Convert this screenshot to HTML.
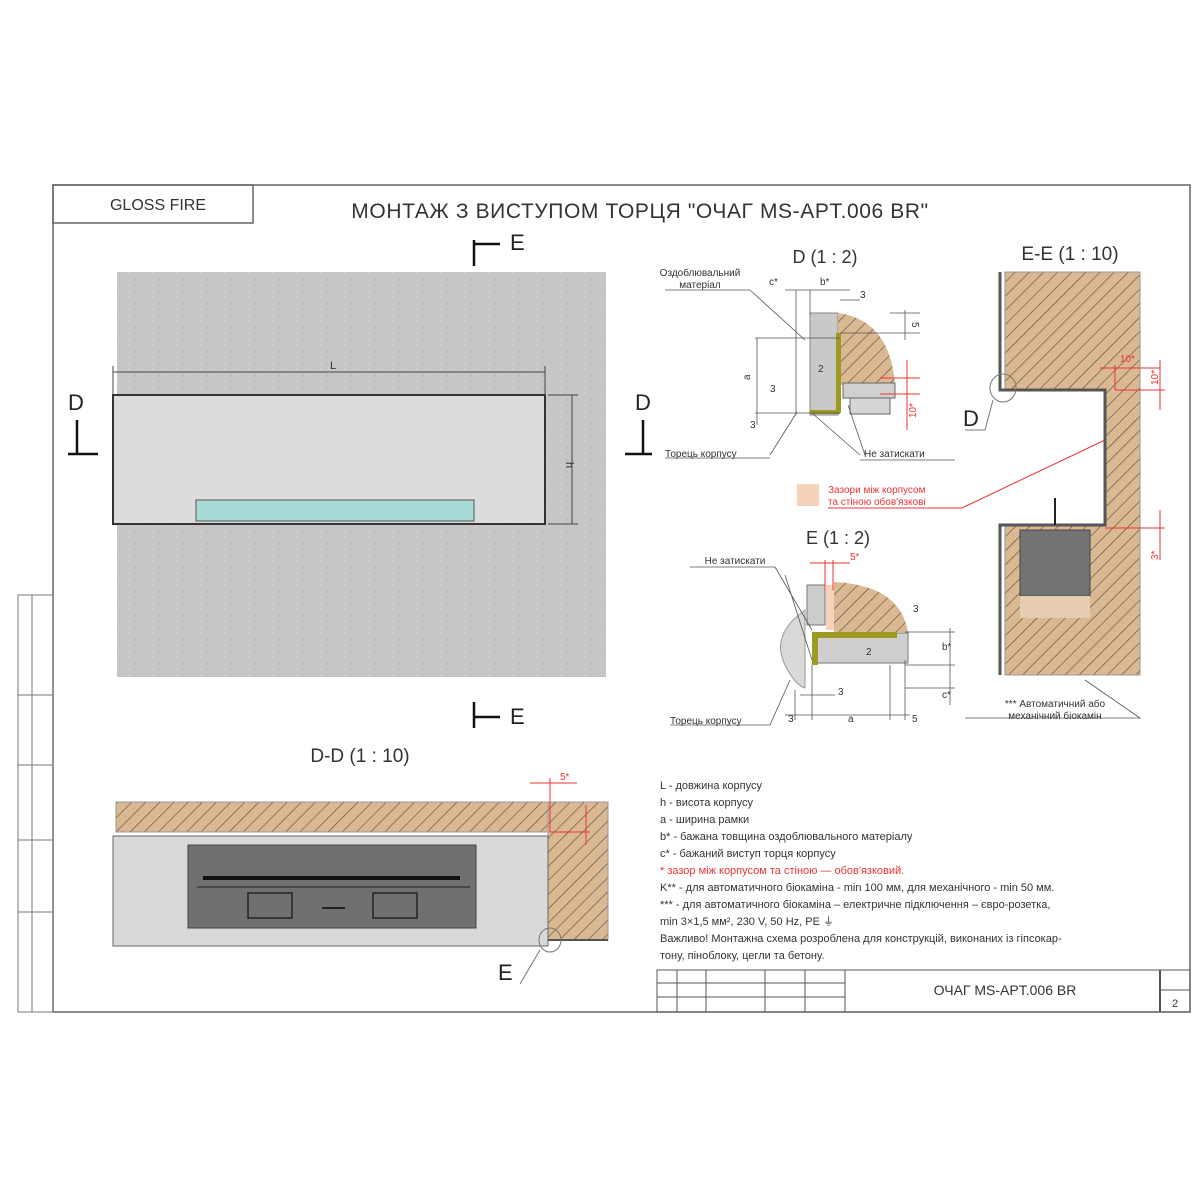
<!DOCTYPE html>
<html><head><meta charset="utf-8"><style>
html,body{margin:0;padding:0;background:#fff;}
svg{display:block;font-family:"Liberation Sans",sans-serif;}
</style></head><body>
<svg width="1200" height="1200" viewBox="0 0 1200 1200" xmlns="http://www.w3.org/2000/svg">
<defs>
<pattern id="h" width="10" height="10" patternUnits="userSpaceOnUse" patternTransform="rotate(45)">
<rect width="10" height="10" fill="#d9b892"/><line x1="0" y1="0" x2="0" y2="10" stroke="#5a4a3a" stroke-width="1.2"/>
</pattern>
<pattern id="c" width="12" height="12" patternUnits="userSpaceOnUse">
<rect width="12" height="12" fill="#c6c6c6"/><circle cx="3" cy="4" r="0.8" fill="#b0b0b0"/><circle cx="9" cy="9" r="0.7" fill="#d8d8d8"/>
</pattern>
</defs>
<rect width="1200" height="1200" fill="#fff"/>
<rect x="53" y="185" width="1137" height="827" fill="none" stroke="#666" stroke-width="1.5"/>
<rect x="18" y="595" width="35" height="417" fill="none" stroke="#777"/>
<line x1="32" y1="595" x2="32" y2="1012" stroke="#777"/>
<g stroke="#777"><line x1="18" y1="695" x2="53" y2="695"/><line x1="18" y1="765" x2="53" y2="765"/><line x1="18" y1="840" x2="53" y2="840"/><line x1="18" y1="912" x2="53" y2="912"/></g>
<rect x="53" y="185" width="200" height="38" fill="none" stroke="#666" stroke-width="1.5"/>
<text x="158" y="210" font-size="16" text-anchor="middle" fill="#333">GLOSS FIRE</text>
<text x="640" y="218" font-size="21" letter-spacing="0.6" text-anchor="middle" fill="#333">МОНТАЖ З ВИСТУПОМ ТОРЦЯ "ОЧАГ MS-APT.006 BR"</text>
<rect x="117" y="272" width="489" height="405" fill="url(#c)"/>
<rect x="113" y="395" width="432" height="129" fill="#dcdcdc" stroke="#333" stroke-width="2"/>
<rect x="196" y="500" width="278" height="21" fill="#a9dbd6" stroke="#555"/>
<g stroke="#444" fill="none">
<line x1="113" y1="372" x2="545" y2="372"/><line x1="113" y1="366" x2="113" y2="395"/><line x1="545" y1="366" x2="545" y2="395"/>
<line x1="548" y1="395" x2="578" y2="395"/><line x1="548" y1="524" x2="578" y2="524"/><line x1="572" y1="395" x2="572" y2="524"/>
</g>
<text x="330" y="369" font-size="11" fill="#333">L</text>
<text x="566" y="462" font-size="11" fill="#333" transform="rotate(90 566 462)">h</text>
<g font-size="22" fill="#222">
<text x="68" y="410">D</text><text x="635" y="410">D</text><text x="510" y="250">E</text><text x="510" y="724">E</text>
</g>
<g stroke="#111" stroke-width="2.5"><line x1="77" y1="420" x2="77" y2="454"/><line x1="68" y1="454" x2="98" y2="454"/><line x1="643" y1="420" x2="643" y2="454"/><line x1="625" y1="454" x2="652" y2="454"/>
<line x1="474" y1="240" x2="474" y2="266"/><line x1="474" y1="244" x2="500" y2="244"/><line x1="474" y1="702" x2="474" y2="728"/><line x1="474" y1="717" x2="500" y2="717"/></g>
<text x="360" y="762" font-size="19" text-anchor="middle" fill="#333">D-D (1 : 10)</text>
<rect x="116" y="802" width="492" height="30" fill="url(#h)" stroke="#999"/>
<rect x="548" y="802" width="60" height="138" fill="url(#h)" stroke="#999"/>
<rect x="113" y="836" width="435" height="110" fill="#d9d9d9" stroke="#666"/>
<rect x="188" y="845" width="288" height="83" fill="#707070" stroke="#444"/>
<line x1="203" y1="878" x2="460" y2="878" stroke="#111" stroke-width="4"/>
<line x1="197" y1="887" x2="470" y2="887" stroke="#222"/>
<rect x="248" y="893" width="44" height="25" fill="none" stroke="#222" stroke-width="1.5"/>
<rect x="373" y="893" width="44" height="25" fill="none" stroke="#222" stroke-width="1.5"/>
<line x1="322" y1="908" x2="345" y2="908" stroke="#222" stroke-width="2"/>
<line x1="548" y1="940" x2="608" y2="940" stroke="#555" stroke-width="2"/>
<g stroke="#e33" fill="none"><line x1="530" y1="783" x2="577" y2="783"/><line x1="550" y1="778" x2="550" y2="832"/><line x1="550" y1="832" x2="590" y2="832"/><line x1="586" y1="805" x2="586" y2="845"/></g>
<text x="560" y="780" font-size="10" fill="#e33">5*</text>
<ellipse cx="550" cy="940" rx="11" ry="12" fill="none" stroke="#777"/>
<line x1="540" y1="950" x2="520" y2="984" stroke="#777"/>
<text x="498" y="980" font-size="22" fill="#222">E</text>
<text x="825" y="263" font-size="18" text-anchor="middle" fill="#333">D (1 : 2)</text>
<text x="700" y="276" font-size="10" text-anchor="middle" fill="#333">Оздоблювальний</text>
<text x="700" y="288" font-size="10" text-anchor="middle" fill="#333">матеріал</text>
<rect x="810" y="313" width="28" height="102" fill="#c9c9c9" stroke="#888"/>
<path d="M838 313 Q890 320 895 385 L838 385 Z" fill="url(#h)"/>
<rect x="836" y="333" width="5" height="80" fill="#9c9a20"/>
<rect x="810" y="410" width="30" height="4" fill="#9c9a20"/>
<rect x="843" y="383" width="52" height="15" fill="#d0d0d0" stroke="#666"/>
<rect x="850" y="398" width="40" height="16" fill="#d6d6d6" stroke="#666"/>
<g stroke="#555" fill="none" stroke-width="0.8">
<line x1="755" y1="338" x2="840" y2="338"/><line x1="755" y1="413" x2="840" y2="413"/><line x1="757" y1="338" x2="757" y2="425"/>
<line x1="785" y1="290" x2="850" y2="290"/><line x1="796" y1="290" x2="796" y2="415"/><line x1="810" y1="290" x2="810" y2="315"/>
<line x1="840" y1="300" x2="860" y2="300"/><line x1="840" y1="333" x2="920" y2="333"/><line x1="890" y1="313" x2="920" y2="313"/><line x1="905" y1="310" x2="905" y2="340"/>
<line x1="665" y1="290" x2="750" y2="290"/><line x1="750" y1="290" x2="805" y2="340"/>
<line x1="770" y1="455" x2="797" y2="412"/><line x1="665" y1="458" x2="770" y2="458"/>
<line x1="812" y1="413" x2="860" y2="455"/><line x1="848" y1="405" x2="865" y2="455"/><line x1="860" y1="460" x2="955" y2="460"/>
</g>
<g stroke="#e33" fill="none"><line x1="880" y1="378" x2="920" y2="378"/><line x1="880" y1="394" x2="920" y2="394"/><line x1="907" y1="360" x2="907" y2="430"/></g>
<g font-size="10" fill="#333"><text x="769" y="285">c*</text><text x="820" y="285">b*</text><text x="860" y="298">3</text><text x="818" y="372">2</text><text x="912" y="322" transform="rotate(90 912 322)">5</text><text x="750" y="380" transform="rotate(-90 750 380)">a</text><text x="770" y="392">3</text><text x="750" y="428">3</text>
<text x="665" y="457">Торець корпусу</text><text x="864" y="457">Не затискати</text></g>
<text x="916" y="418" font-size="10" fill="#e33" transform="rotate(-90 916 418)">10*</text>
<rect x="797" y="484" width="22" height="22" fill="#f6d3b8"/>
<text x="828" y="493" font-size="10" fill="#e33">Зазори між корпусом</text>
<text x="828" y="505" font-size="10" fill="#e33">та стіною обов'язкові</text>
<polyline points="828,508 962,508 1105,440" fill="none" stroke="#e33"/>
<text x="838" y="544" font-size="18" text-anchor="middle" fill="#333">E (1 : 2)</text>
<text x="735" y="564" font-size="10" text-anchor="middle" fill="#333">Не затискати</text>
<line x1="690" y1="567" x2="775" y2="567" stroke="#555" stroke-width="0.8"/>
<path d="M805 610 Q770 635 785 665 Q795 685 805 688 L805 610 Z" fill="#d9d9d9" stroke="#999"/>
<rect x="807" y="585" width="18" height="40" fill="#ccc" stroke="#777"/>
<rect x="826" y="585" width="8" height="45" fill="#f6d3b8"/>
<path d="M834 582 Q900 585 908 632 L834 632 Z" fill="url(#h)"/>
<rect x="813" y="633" width="95" height="30" fill="#cfcfcf" stroke="#777"/>
<path d="M812 632 L897 632 L897 638 L818 638 L818 665 L812 665 Z" fill="#9c9a20"/>
<g stroke="#555" fill="none" stroke-width="0.8">
<line x1="775" y1="567" x2="812" y2="630"/><line x1="785" y1="575" x2="812" y2="660"/>
<line x1="905" y1="632" x2="955" y2="632"/><line x1="905" y1="665" x2="955" y2="665"/><line x1="950" y1="628" x2="950" y2="705"/><line x1="905" y1="688" x2="955" y2="688"/>
<line x1="795" y1="690" x2="795" y2="720"/><line x1="812" y1="665" x2="812" y2="720"/><line x1="890" y1="665" x2="890" y2="720"/><line x1="905" y1="660" x2="905" y2="720"/>
<line x1="785" y1="715" x2="910" y2="715"/><line x1="800" y1="695" x2="835" y2="695"/>
<line x1="790" y1="680" x2="770" y2="725"/><line x1="670" y1="725" x2="770" y2="725"/>
</g>
<g stroke="#e33" fill="none"><line x1="810" y1="563" x2="850" y2="563"/><line x1="825" y1="560" x2="825" y2="590"/><line x1="833" y1="560" x2="833" y2="590"/></g>
<text x="850" y="560" font-size="10" fill="#e33">5*</text>
<g font-size="10" fill="#333"><text x="838" y="695">3</text><text x="788" y="722">3</text><text x="848" y="722">a</text><text x="912" y="722">5</text><text x="913" y="612">3</text><text x="942" y="650">b*</text><text x="942" y="698">c*</text><text x="866" y="655">2</text><text x="670" y="724">Торець корпусу</text></g>
<text x="1070" y="260" font-size="19" text-anchor="middle" fill="#333">E-E (1 : 10)</text>
<path d="M1005 272 L1140 272 L1140 675 L1005 675 L1005 525 L1105 525 L1105 390 L1005 390 Z" fill="url(#h)" stroke="#999"/>
<g stroke="#555" stroke-width="3" fill="none">
<polyline points="1000,272 1000,390 1105,390 1105,525 1000,525 1000,675"/></g>
<rect x="1020" y="530" width="70" height="66" fill="#737373" stroke="#444"/>
<rect x="1020" y="596" width="70" height="22" fill="#e6cdb0"/>
<line x1="1055" y1="498" x2="1055" y2="525" stroke="#222" stroke-width="2"/>
<g stroke="#e33" fill="none"><line x1="1100" y1="368" x2="1160" y2="368"/><line x1="1115" y1="365" x2="1115" y2="390"/><line x1="1115" y1="390" x2="1165" y2="390"/><line x1="1160" y1="360" x2="1160" y2="410"/><line x1="1105" y1="528" x2="1165" y2="528"/><line x1="1160" y1="510" x2="1160" y2="560"/></g>
<text x="1120" y="362" font-size="10" fill="#e33">10*</text>
<text x="1158" y="385" font-size="10" fill="#e33" transform="rotate(-90 1158 385)">10*</text>
<text x="1158" y="560" font-size="10" fill="#e33" transform="rotate(-90 1158 560)">3*</text>
<ellipse cx="1003" cy="388" rx="13" ry="14" fill="none" stroke="#777"/>
<polyline points="993,400 985,430 965,430" fill="none" stroke="#777"/>
<text x="963" y="426" font-size="22" fill="#222">D</text>
<polyline points="1085,680 1140,718 965,718" fill="none" stroke="#555" stroke-width="0.8"/>
<text x="1055" y="707" font-size="10" text-anchor="middle" fill="#333">*** Автоматичний або</text>
<text x="1055" y="719" font-size="10" text-anchor="middle" fill="#333">механічний біокамін</text>
<g font-size="11" fill="#333">
<text x="660" y="789">L - довжина корпусу</text>
<text x="660" y="806">h - висота корпусу</text>
<text x="660" y="823">a - ширина рамки</text>
<text x="660" y="840">b* - бажана товщина оздоблювального матеріалу</text>
<text x="660" y="857">c* - бажаний виступ торця корпусу</text>
<text x="660" y="874" fill="#e33">* зазор між корпусом та стіною — обов'язковий.</text>
<text x="660" y="891">K** - для автоматичного біокаміна - min 100 мм, для механічного - min 50 мм.</text>
<text x="660" y="908">*** - для автоматичного біокаміна – електричне підключення – євро-розетка,</text>
<text x="660" y="925">min 3×1,5 мм², 230 V, 50 Hz, PE ⏚</text>
<text x="660" y="942">Важливо! Монтажна схема розроблена для конструкцій, виконаних із гіпсокар-</text>
<text x="660" y="959">тону, піноблоку, цегли та бетону.</text>
</g>
<g stroke="#555" fill="none">
<rect x="657" y="970" width="533" height="42"/>
<line x1="677" y1="970" x2="677" y2="1012"/><line x1="706" y1="970" x2="706" y2="1012"/><line x1="765" y1="970" x2="765" y2="1012"/><line x1="805" y1="970" x2="805" y2="1012"/><line x1="845" y1="970" x2="845" y2="1012"/>
<line x1="657" y1="983" x2="845" y2="983"/><line x1="657" y1="997" x2="845" y2="997"/>
<line x1="1160" y1="970" x2="1160" y2="1012" stroke-width="2"/><line x1="1160" y1="990" x2="1190" y2="990"/>
</g>
<text x="1005" y="995" font-size="14" text-anchor="middle" fill="#333">ОЧАГ MS-APT.006 BR</text>
<text x="1175" y="1007" font-size="11" text-anchor="middle" fill="#333">2</text>
</svg>
</body></html>
